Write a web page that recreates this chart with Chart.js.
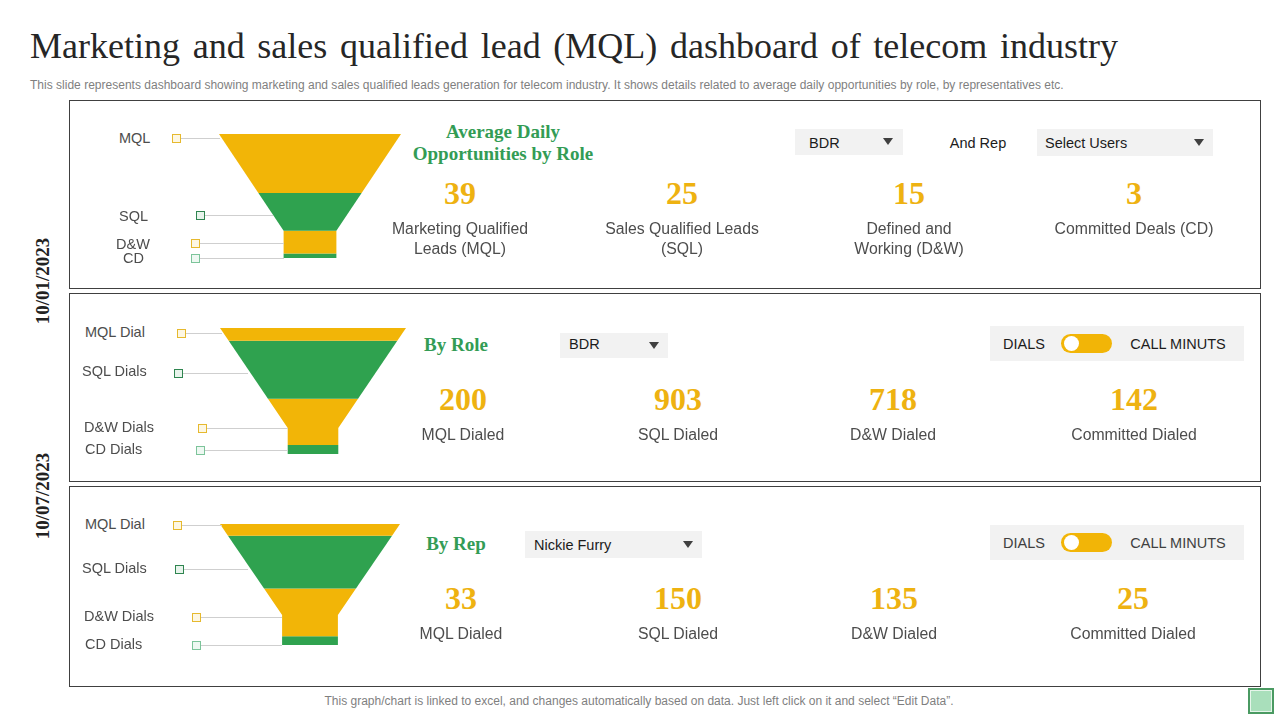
<!DOCTYPE html>
<html>
<head>
<meta charset="utf-8">
<title>MQL dashboard</title>
<script src="https://cdn.jsdelivr.net/npm/chart.js@4"></script>
<style>
html, body { margin: 0; padding: 0; background: #fff; }
#page { position: relative; width: 1280px; height: 720px; overflow: hidden; font-family: "Liberation Sans", sans-serif; }
#page > * { position: absolute; }
.t { white-space: nowrap; line-height: 1; transform: translateY(-50%); }
.c { transform: translate(-50%, -50%); text-align: center; }
.panel { box-sizing: border-box; left: 69px; width: 1192px; border: 1px solid #404040; }
.num { font: bold 32px "Liberation Serif", serif; color: #eeb211; }
.kpi { font-size: 15.8px; line-height: 20px; color: #4d4d4d; }
.head { font: bold 19px "Liberation Serif", serif; color: #339c55; }
.lab { font-size: 14.5px; color: #4d4d4d; }
.box { background: #f2f2f2; }
.opt { font-size: 14.5px; color: #1c1c1c; }
.date { font: bold 19px "Liberation Serif", serif; color: #222; transform: translate(-50%, -50%) rotate(-90deg); }
.arrow { width: 0; height: 0; border-left: 5px solid transparent; border-right: 5px solid transparent; border-top: 7px solid #404040; }
.lead { height: 1px; background: #cfcfcf; }
.mark { box-sizing: border-box; width: 9px; height: 9px; border: 1px solid; }
.switch { background: #f2b507; border-radius: 10px; }
.knob { background: #fff; border-radius: 50%; }
canvas { display: block; }
</style>
</head>
<body>
<div id="page"></div>
<script>
"use strict";
// 値
var roleStages = ["MQL", "SQL", "D&W", "CD"];
var dialStages = ["MQL Dial", "SQL Dials", "D&W Dials", "CD Dials"];
var dailyOpportunities = [39, 25, 15, 3];
var dialsByRole = [200, 903, 718, 142];
var dialsByRep = [33, 150, 135, 25];
var opportunityNames = [["Marketing Qualified", "Leads (MQL)"], ["Sales Qualified Leads", "(SQL)"], ["Defined and", "Working (D&W)"], ["Committed Deals (CD)"]];
var dialedNames = ["MQL Dialed", "SQL Dialed", "D&W Dialed", "Committed Dialed"];
var dates = ["10/01/2023", "10/07/2023"];

var page = document.getElementById("page");
var YELLOW = "#f2b507", GREEN = "#2fa24f";

function add(cls, css, text) {
    var d = document.createElement("div");
    d.className = cls;
    d.style.cssText = css;
    if (text !== undefined) d.textContent = text;
    page.appendChild(d);
    return d;
}
function textAt(cls, x, y, text, extra) {
    return add("t " + cls, "left:" + x + "px;top:" + y + "px;" + (extra || ""), text);
}
function centerAt(cls, x, y, text, extra) {
    return add("t c " + cls, "left:" + x + "px;top:" + y + "px;" + (extra || ""), text);
}
function rect(cls, x, y, w, h, extra) {
    return add(cls, "left:" + x + "px;top:" + y + "px;width:" + w + "px;height:" + h + "px;" + (extra || ""));
}

// 見出し
textAt("", 30, 46, "Marketing and sales qualified lead (MQL) dashboard of telecom industry",
    "font:36px 'Liberation Serif',serif;color:#262626;word-spacing:3.7px;");
textAt("", 30, 85, "This slide represents dashboard showing marketing and sales qualified leads generation for telecom industry. It shows details related to average daily opportunities by role, by representatives etc.",
    "font-size:12px;color:#7f7f7f;letter-spacing:0.01px;");
centerAt("", 639, 701, "This graph/chart is linked to excel, and changes automatically based on data. Just left click on it and select \u201cEdit Data\u201d.",
    "font-size:12px;color:#7f7f7f;");
rect("", 1248, 688, 26, 26, "box-sizing:border-box;background:#a9dfbb;border:2px solid #4a9a62;outline:1px solid #e6f5ea;outline-offset:-3px;");

add("panel", "top:100px;height:189px;");
add("panel", "top:293px;height:189px;");
add("panel", "top:486px;height:201px;");
add("t date", "left:43px;top:281px;", dates[0]);
add("t date", "left:43px;top:496px;", dates[1]);

// ファネルの幅 (上端からの深さで細くなる)
function halfWidth(depth, neckDepth, neckPct) {
    if (depth >= neckDepth) return neckPct;
    return 100 - (100 - neckPct) * depth / neckDepth;
}
function stagePolygon(values, i, neckDepth, neckPct) {
    var top = 0;
    for (var k = 0; k < i; k++) top += values[k];
    var bottom = top + values[i];
    var right = [{ x: halfWidth(top, neckDepth, neckPct), y: top }];
    if (top < neckDepth && bottom > neckDepth) right.push({ x: neckPct, y: neckDepth });
    right.push({ x: halfWidth(bottom, neckDepth, neckPct), y: bottom });
    var left = right.map(function (p) { return { x: -p.x, y: p.y }; }).reverse();
    return right.concat(left, [right[0]]);
}
function funnel(x, y, w, h, labels, values, neckDepth, neckPct) {
    var wrap = rect("", x, y, w, h);
    var cv = document.createElement("canvas");
    cv.width = w;
    cv.height = h;
    wrap.appendChild(cv);
    var total = values.reduce(function (a, b) { return a + b; }, 0);
    return new Chart(cv, {
        type: "line",
        data: {
            datasets: values.map(function (v, i) {
                return {
                    label: labels[i],
                    data: stagePolygon(values, i, neckDepth, neckPct),
                    fill: "shape",
                    backgroundColor: i % 2 ? GREEN : YELLOW,
                    borderWidth: 0,
                    pointRadius: 0,
                    tension: 0
                };
            })
        },
        options: {
            responsive: false,
            animation: false,
            layout: { padding: 0 },
            plugins: { legend: { display: false }, tooltip: { enabled: false } },
            scales: {
                x: { type: "linear", display: false, min: -100, max: 100 },
                y: { type: "linear", display: false, reverse: true, min: 0, max: total }
            }
        }
    });
}
funnel(219, 134, 182, 124, roleStages, dailyOpportunities, 64, 29);
funnel(220, 328, 186, 126, dialStages, dialsByRole, 1557, 27.2);
funnel(220, 524, 180, 121, dialStages, dialsByRep, 258, 31);

// 引き出し線
var markColors = ["#e6b92e", "#2f8550", "#e6b92e", "#7cc49a"];
var markFills = ["#fdf7e3", "#e8f4ec", "#fdf7e3", "#eef8f2"];
function callouts(labels, labelX, labelY, markX, lineY, lineEnd) {
    labels.forEach(function (name, i) {
        textAt("lab", labelX[i], labelY[i], name);
        rect("lead", markX[i], lineY[i], lineEnd[i] - markX[i], 1);
        add("mark", "left:" + (markX[i] - 4) + "px;top:" + (lineY[i] - 4) + "px;border-color:" + markColors[i] + ";background:" + markFills[i] + ";");
    });
}
callouts(roleStages, [119, 119, 116, 123], [138, 216, 244, 258], [176, 200, 195, 195], [138, 215, 243, 258], [220, 273, 284, 284]);
callouts(dialStages, [85, 82, 84, 85], [332, 371, 427, 449], [181, 178, 202, 200], [333, 373, 428, 450], [222, 248, 288, 288]);
callouts(dialStages, [85, 82, 84, 85], [524, 568, 616, 644], [177, 179, 196, 196], [525, 569, 617, 645], [222, 248, 282, 282]);

// KPI
function kpis(values, names, xs, numY, nameY) {
    values.forEach(function (v, i) {
        centerAt("num", xs[i], numY, String(v));
        var d = add("kpi", "left:" + (xs[i] - 110) + "px;top:" + (nameY - 10) + "px;width:220px;text-align:center;");
        [].concat(names[i]).forEach(function (line) {
            var l = document.createElement("div");
            l.textContent = line;
            d.appendChild(l);
        });
    });
}
kpis(dailyOpportunities, opportunityNames, [460, 682, 909, 1134], 193, 229);
kpis(dialsByRole, dialedNames, [463, 678, 893, 1134], 399, 435);
kpis(dialsByRep, dialedNames, [461, 678, 894, 1133], 598, 634);

centerAt("head", 503, 132, "Average Daily");
centerAt("head", 503, 154, "Opportunities by Role");
centerAt("head", 456, 345, "By Role");
centerAt("head", 456, 544, "By Rep");

// ドロップダウンとスイッチ
function dropdown(x, y, w, h, text, textX, arrowX, textY) {
    rect("box", x, y, w, h);
    textAt("opt", textX, textY, text);
    add("arrow", "left:" + (arrowX - 5) + "px;top:" + (y + h / 2 - 4) + "px;");
}
dropdown(795, 129, 108, 26, "BDR", 809, 888, 143);
dropdown(1037, 129, 176, 27, "Select Users", 1045, 1199, 143);
dropdown(560, 333, 108, 25, "BDR", 569, 654, 344);
dropdown(525, 531, 177, 27, "Nickie Furry", 534, 688, 545);
centerAt("opt", 978, 143, "And Rep");

function toggle(y, textColor) {
    rect("box", 990, y, 254, 35);
    centerAt("opt", 1024, y + 18, "DIALS", "color:" + textColor + ";");
    centerAt("opt", 1178, y + 18, "CALL MINUTS", "color:" + textColor + ";");
    rect("switch", 1061, y + 8, 51, 19);
    rect("knob", 1064, y + 10, 15, 15);
}
toggle(326, "#1c1c1c");
toggle(525, "#404040");
</script>
</body>
</html>
